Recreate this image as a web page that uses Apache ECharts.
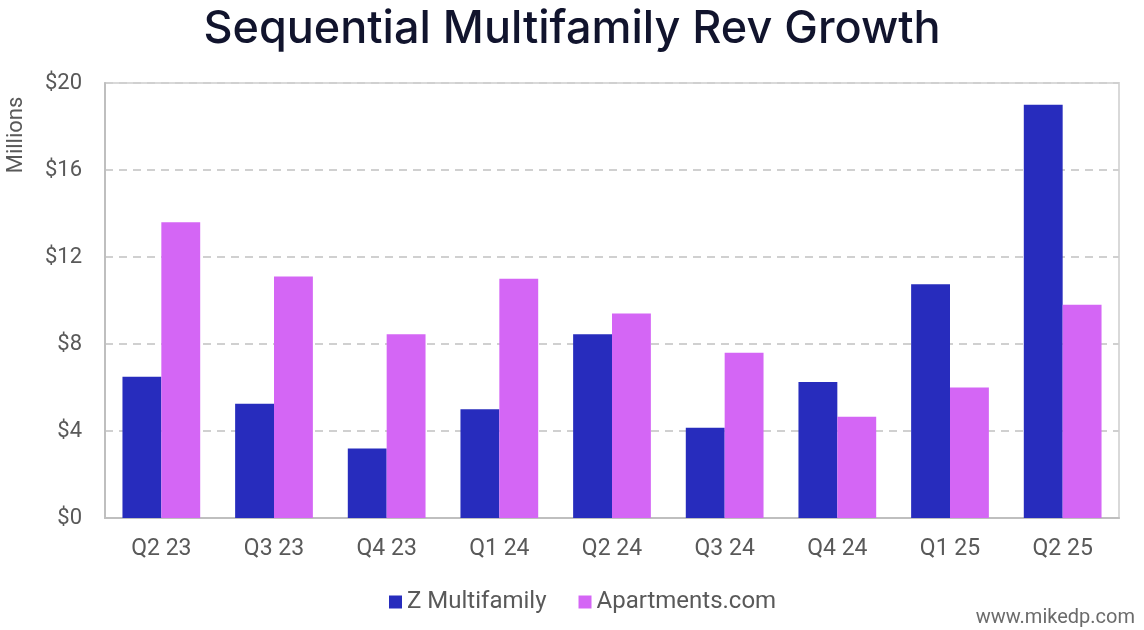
<!DOCTYPE html>
<html><head><meta charset="utf-8">
<script src="https://cdn.jsdelivr.net/npm/echarts@6/dist/echarts.min.js"></script>
<style>html,body{margin:0;padding:0;background:#fff}#c{width:1144px;height:630px}</style>
</head><body><div id="c"></div>
<script>
const categories = ['Q2 23','Q3 23','Q4 23','Q1 24','Q2 24','Q3 24','Q4 24','Q1 25','Q2 25'];
const zMultifamily = [6.5, 5.25, 3.2, 5.0, 8.45, 4.15, 6.25, 10.75, 19.0];
const apartments = [13.6, 11.1, 8.45, 11.0, 9.4, 7.6, 4.65, 6.0, 9.8];
const yTicks = [0, 4, 8, 12, 16, 20];

const chart = echarts.init(document.getElementById('c'));
chart.setOption({
  animation: false,
  title: {
    text: 'Sequential Multifamily Rev Growth',
    left: 'center', top: 2,
    textStyle: { fontFamily: 'Inter', fontSize: 45, fontWeight: 500, color: '#11142d' }
  },
  graphic: [
    { type: 'text', right: 9, top: 608,
      style: { text: 'www.mikedp.com', font: '20px Roboto', fill: '#6b6b6b' } },
    { type: 'text', x: 16, y: 135, rotation: Math.PI / 2,
      style: { text: 'Millions', font: '22px Roboto', fill: '#595959', align: 'center', verticalAlign: 'middle' } }
  ],
  legend: {
    bottom: 11, left: 384, itemWidth: 13, itemHeight: 13, itemGap: 32,
    icon: 'rect',
    textStyle: { fontFamily: 'Roboto', fontSize: 24, color: '#595959' },
    data: ['Z Multifamily', 'Apartments.com']
  },
  grid: { left: 105, right: 25, top: 83, bottom: 112, show: true, borderColor: '#d9d9d9', borderWidth: 2 },
  xAxis: {
    type: 'category', data: categories,
    axisLine: { lineStyle: { color: '#bfbfbf', width: 2 } },
    axisTick: { show: false },
    axisLabel: { fontFamily: 'Roboto', fontSize: 23, color: '#595959', margin: 20 }
  },
  yAxis: {
    type: 'value', min: yTicks[0], max: yTicks[yTicks.length-1], interval: 4,
    axisLine: { show: true, lineStyle: { color: '#bfbfbf', width: 2 } },
    axisTick: { show: false },
    axisLabel: { fontFamily: 'Roboto', fontSize: 22, color: '#595959', margin: 23, formatter: v => '$' + v },
    splitLine: { lineStyle: { color: '#d0d0d0', type: [8, 6], width: 2 } }
  },
  series: [
    { name: 'Z Multifamily', type: 'bar', data: zMultifamily, barGap: '0%', barCategoryGap: '31%', itemStyle: { color: '#272cbd' } },
    { name: 'Apartments.com', type: 'bar', data: apartments, itemStyle: { color: '#d466f5' } }
  ]
});
</script></body></html>
